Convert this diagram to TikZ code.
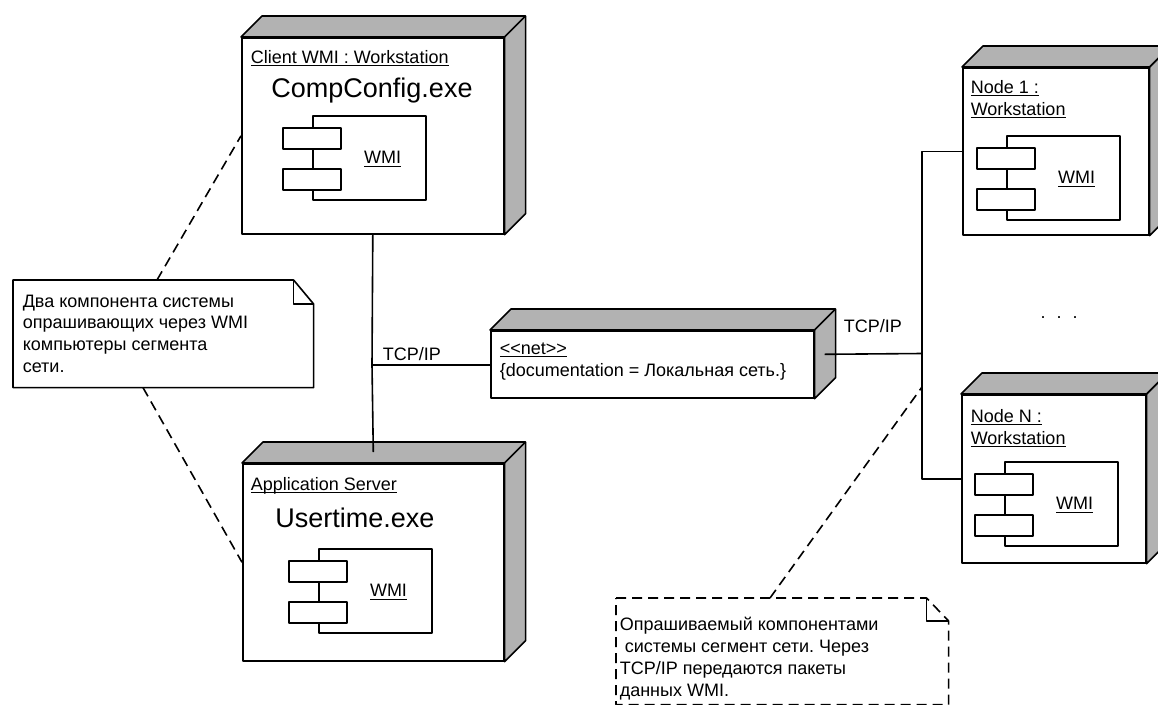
\documentclass[tikz,border=0pt]{standalone}
\usepackage{fontspec}
\setmainfont{Liberation Sans}
\usetikzlibrary{calc}
\definecolor{sidegrey}{RGB}{178,178,178}
\frenchspacing

\tikzset{
  devbox/.style={draw, fill=white, anchor=north west, inner sep=0pt},
  compbox/.style={draw, fill=white, anchor=north west, inner sep=0pt,
    minimum width=113pt, minimum height=84pt},
  portbox/.style={draw, fill=white, anchor=north, inner sep=0pt,
    minimum width=58pt, minimum height=21pt},
  txt/.style={inner sep=0pt, font=\fontsize{18}{21.5}\selectfont},
  bigtxt/.style={inner sep=0pt, font=\fontsize{27}{32}\selectfont},
  notebox/.style={anchor=north west, inner sep=0pt},
  noteline/.style={dash pattern=on 10pt off 6pt},
}

\newcommand{\umlname}[1]{\setbox0=\hbox{#1}\rlap{\copy0}\rule[-3.2pt]{\wd0}{1.2pt}}
\newcommand{\depthfaces}[1]{%
  \draw[fill=sidegrey] (#1.north west) -- ++(21,-21) -| ($(#1.south east)+(21,-21)$)
    -- (#1.south east) -- (#1.north east) -- cycle;
  \draw (#1.north east) -- ++(21,-21);
}
\newcommand{\wmiunit}[3]{%
  \node[compbox] (#1) at (#2,#3) {};
  \node[portbox] (#1a) at ($(#1.north west)+(0,12)$) {};
  \node[portbox] (#1b) at ($(#1.north west)+(0,53)$) {};
  \node[txt, anchor=base] (#1lbl) at ($(#1.north west)+(70.5,48.5)$) {\umlname{WMI}};
}

\begin{document}
\begin{tikzpicture}[x=1pt, y=-1pt, line width=1.6pt, line join=round]
   \useasboundingbox (0,0) rectangle (1158,704);

   \node[devbox, minimum width=262pt, minimum height=196pt] (client) at (241,37) {};
   \depthfaces{client}
   \node[txt, anchor=base west] (clienttitle) at (250,63) {\umlname{Client WMI : Workstation}};
   \node[bigtxt, anchor=base] (clientexe) at (372,97) {CompConfig.exe};
   \wmiunit{clientwmi}{312}{115}

   \node[devbox, minimum width=261pt, minimum height=197pt] (appsrv) at (242,463) {};
   \depthfaces{appsrv}
   \node[txt, anchor=base west] (apptitle) at (250,490) {\umlname{Application Server}};
   \node[bigtxt, anchor=base] (appexe) at (355,527) {Usertime.exe};
   \wmiunit{appwmi}{318}{548}

   \node[devbox, minimum width=323pt, minimum height=67pt] (net) at (490,330) {};
   \depthfaces{net}
   \node[txt, anchor=base west] (netstereo) at (499,354) {\umlname{<{}<net>{}>}};
   \node[txt, anchor=base west] (netdoc) at (499,376) {\{documentation = Локальная сеть.\}};

   \node[devbox, minimum width=186pt, minimum height=167pt] (node1) at (962,67) {};
   \depthfaces{node1}
   \node[txt, anchor=base west] (node1title) at (970,93) {\umlname{Node 1 :}};
   \node[txt, anchor=base west] (node1type) at (970,115) {\umlname{Workstation}};
   \wmiunit{node1wmi}{1006}{135}

   \node[devbox, minimum width=184pt, minimum height=168pt] (nodeN) at (961,394) {};
   \depthfaces{nodeN}
   \node[txt, anchor=base west] (nodeNtitle) at (970,422) {\umlname{Node N :}};
   \node[txt, anchor=base west] (nodeNtype) at (970,444) {\umlname{Workstation}};
   \wmiunit{nodeNwmi}{1004}{461}

   \coordinate (busL) at (372,365);
   \draw (client.south) -- (busL) -- ($(appsrv.north)+(0,-11)$);
   \draw (busL) -- (busL -| net.west);
   \node[txt, anchor=base west] (tcpL) at (382,360) {TCP/IP};

   \coordinate (busR) at (922,353.5);
   \draw ($(net.east)+(10,-10)$) -- (busR);
   \draw (node1.west) -| (busR) |- (nodeN.west);
   \node[txt, anchor=base west] (tcpR) at (843,332) {TCP/IP};
   \node[txt, anchor=base] (dots) at (1059,318) {.\hspace{11pt}.\hspace{11pt}.};

   \node[notebox, minimum width=299pt, minimum height=106pt] (noteL) at (13,280) {};
   \draw[fill=white] (noteL.north west) -- ($(noteL.north east)+(-20,0)$)
     -- ($(noteL.north east)+(0,24)$) -- (noteL.south east) -- (noteL.south west) -- cycle;
   \draw ($(noteL.north east)+(-20,0)$) |- ($(noteL.north east)+(0,24)$);
   \foreach \t [count=\i] in {Два компонента системы, опрашивающих через WMI,
                              компьютеры сегмента, сети.}
     \node[txt, anchor=base west] (noteL\i) at (22,{307+21.7*(\i-1)}) {\t};

   \node[notebox, minimum width=331pt, minimum height=105pt] (noteR) at (616,598) {};
   \draw[noteline] (noteR.north west) -- ($(noteR.north east)+(-22,0)$)
     -- ($(noteR.north east)+(0,23)$) -- (noteR.south east) -- (noteR.south west) -- cycle;
   \draw ($(noteR.north east)+(-22,0)$) |- ($(noteR.north east)+(0,23)$);
   \foreach \t [count=\i] in {Опрашиваемый компонентами, \hspace*{5pt}системы сегмент сети. Через,
                              TCP/IP передаются пакеты, данных WMI.}
     \node[txt, anchor=base west] (noteR\i) at (619,{630+22*(\i-1)}) {\t};

   \coordinate (tap) at (922,387);
   \draw[noteline] ($(noteL.north west)+(144,0)$) -- (client.west);
   \draw[noteline] ($(noteL.south west)+(130,0)$) -- (appsrv.west);
   \draw[noteline] ($(noteR.north west)+(154,0)$) -- (tap);
\end{tikzpicture}
\end{document}
